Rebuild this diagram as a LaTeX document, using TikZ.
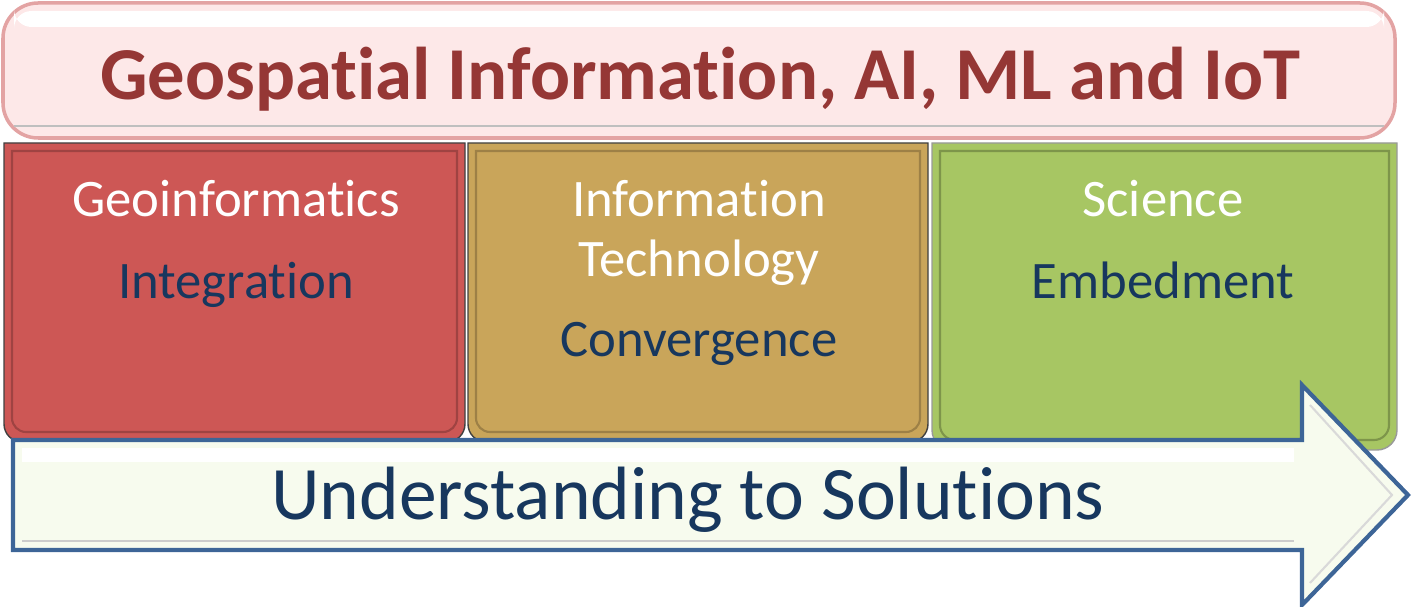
\documentclass[tikz,border=0pt]{standalone}
\usepackage{fontspec}
\setmainfont{Carlito}[Ligatures=NoCommon]

\definecolor{bannerfill}{HTML}{FDE8E8}
\definecolor{bannerline}{HTML}{E3A3A3}
\definecolor{bannertext}{HTML}{953735}
\definecolor{geored}{HTML}{CD5755}
\definecolor{ittan}{HTML}{C9A55A}
\definecolor{scigreen}{HTML}{A7C663}
\definecolor{navy}{HTML}{17375E}
\definecolor{arrowfill}{HTML}{F7FBEE}
\definecolor{arrowline}{HTML}{3D6597}

\begin{document}
\begin{tikzpicture}[x=0.02cm,y=-0.02cm,
    head/.style={font=\fontsize{30}{32}\selectfont,white,anchor=base},
    sub/.style={font=\fontsize{30}{32}\selectfont,navy,anchor=base},
    panel/.style={line width=0.8pt,draw=black!75},
    bevel/.style={line width=1.2pt,opacity=0.55}]
    \useasboundingbox (0,0) rectangle (1411,607);
    % banner
    \draw[line width=2pt,draw=bannerline,fill=bannerfill,rounded corners=20](3,3)rectangle(1395,138);
    \fill[white,rounded corners=10](14,11)rectangle(1384,27);
    \draw[black!25,line width=1.5pt,rounded corners=14](14,126)--(1384,126);
    \node[font=\fontsize{42.5}{44}\bfseries\selectfont,bannertext,anchor=base](title)at(700,100){Geospatial Information, AI, ML and IoT};
    % three panels
    \draw[panel,fill=geored](4,143)--(4,424)arc(180:90:18)--(447,442)arc(90:0:18)--(465,424)--(465,143)--cycle;
    \draw[bevel,draw=geored!60!black](12,151)--(12,418)arc(180:90:14)--(443,432)arc(90:0:14)--(457,418)--(457,151)--cycle;
    \draw[panel,fill=ittan](468,143)--(468,424)arc(180:90:18)--(910,442)arc(90:0:18)--(928,424)--(928,143)--cycle;
    \draw[bevel,draw=ittan!60!black](476,151)--(476,418)arc(180:90:14)--(906,432)arc(90:0:14)--(920,418)--(920,151)--cycle;
    \draw[panel,draw=black!40,fill=scigreen](932,143)--(932,430)arc(180:90:20)--(1377,450)arc(90:0:20)--(1397,430)--(1397,143)--cycle;
    \draw[bevel,draw=scigreen!55!black](940,151)--(940,425)arc(180:90:15)--(1374,440)arc(90:0:15)--(1389,425)--(1389,151)--cycle;
    \node[head](geo)at(236,217){Geoinformatics};
    \node[sub](integ)at(236,299){Integration};
    \node[head](info)at(699,217){Information};
    \node[head](tech)at(699,277){Technology};
    \node[sub](conv)at(699,357){Convergence};
    \node[head](sci)at(1163,217){Science};
    \node[sub](embed)at(1163,299){Embedment};
    % arrow along the bottom
    \draw[line width=2.4pt,draw=arrowline,fill=arrowfill,line join=miter](13,440)--(1302,440)--(1302,385)--(1408,495)--(1302,605)--(1302,550)--(13,550)--cycle;
    \fill[white](22,448)rectangle(1294,462);
    \draw[black!20,line width=1.2pt](22,541)--(1294,541);
    \draw[black!15,line width=1.2pt](1310,405)--(1392,495)--(1310,583);
    \node[font=\fontsize{43}{45}\selectfont,navy,anchor=base](sol)at(688,520){Understanding to Solutions};
\end{tikzpicture}
\end{document}
